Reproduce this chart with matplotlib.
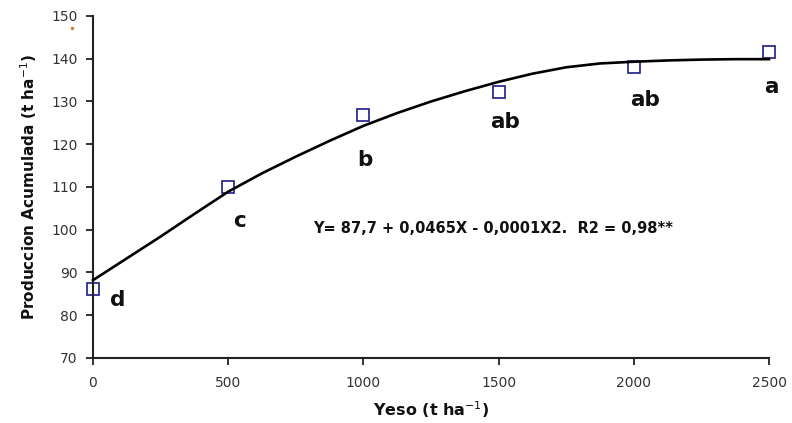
import matplotlib.pyplot as plt

# observed means per gypsum dose
yeso = [0, 500, 1000, 1500, 2000, 2500]
produccion = [86.1, 110.0, 126.8, 132.2, 138.0, 141.6]
letras = ['d', 'c', 'b', 'ab', 'ab', 'a']

# fitted curve
curva_x = [0, 125, 250, 375, 500, 625, 750, 875, 1000, 1125, 1250, 1375, 1500,
           1625, 1750, 1875, 2000, 2125, 2250, 2375, 2500]
curva_y = [88.2, 93.3, 98.4, 103.7, 108.9, 113.2, 117.1, 120.8, 124.3, 127.3,
           130.0, 132.4, 134.6, 136.5, 138.0, 138.9, 139.3, 139.6, 139.8, 139.9, 139.9]

# letter positions (data coords)
letra_x = [92, 540, 1006, 1524, 2041, 2507]
letra_y = [83.6, 102.0, 116.3, 125.2, 130.4, 133.4]

ecuacion = 'Y= 87,7 + 0,0465X - 0,0001X2.  R2 = 0,98**'

plt.rcParams['font.family'] = ['DejaVu Sans']

fig = plt.figure(figsize=(7.92, 4.23), dpi=100)
ax = fig.add_axes([0.1174, 0.1537, 0.8536, 0.8085])

ax.plot(yeso, produccion, linestyle='none', marker='s', markersize=8.5,
        markerfacecolor='none', markeredgecolor='#1c1c8a', markeredgewidth=1.2,
        zorder=2, clip_on=False)
ax.plot(curva_x, curva_y, color='black', linewidth=1.9, zorder=3, clip_on=False)

for lx, ly, t in zip(letra_x, letra_y, letras):
    ax.text(lx, ly, t, ha='center', va='center', fontsize=15.5, fontweight='bold',
            color='#111111')

ax.text(814, 100.2, ecuacion, ha='left', va='center', fontsize=10.5,
        fontweight='bold', color='#111111')

ax.set_xlim(0, 2500)
ax.set_ylim(70, 150)
ax.set_xticks([0, 500, 1000, 1500, 2000, 2500])
ax.set_yticks([70, 80, 90, 100, 110, 120, 130, 140, 150])

for s in ['top', 'right']:
    ax.spines[s].set_visible(False)
for s in ['left', 'bottom']:
    ax.spines[s].set_linewidth(1.5)
    ax.spines[s].set_color('#222222')

ax.tick_params(axis='both', direction='out', length=5, width=1.3,
               labelsize=10, colors='#222222', labelcolor='#333333')
ax.tick_params(axis='x', pad=8)
ax.tick_params(axis='y', pad=6)

ax.set_xlabel('Yeso (t ha$^{-1}$)', fontsize=11.5, fontweight='bold',
              color='#111111', labelpad=7)
ax.set_ylabel('Produccion Acumulada (t ha$^{-1}$)', fontsize=11,
              fontweight='bold', color='#111111', labelpad=9)

# stray orange dot in the top-left corner
fig.add_artist(plt.Line2D([0.091], [0.934], marker='o', markersize=1.5,
                          color='#d08030', linestyle='none'))

fig.savefig('out.png', dpi=100, facecolor='white')
